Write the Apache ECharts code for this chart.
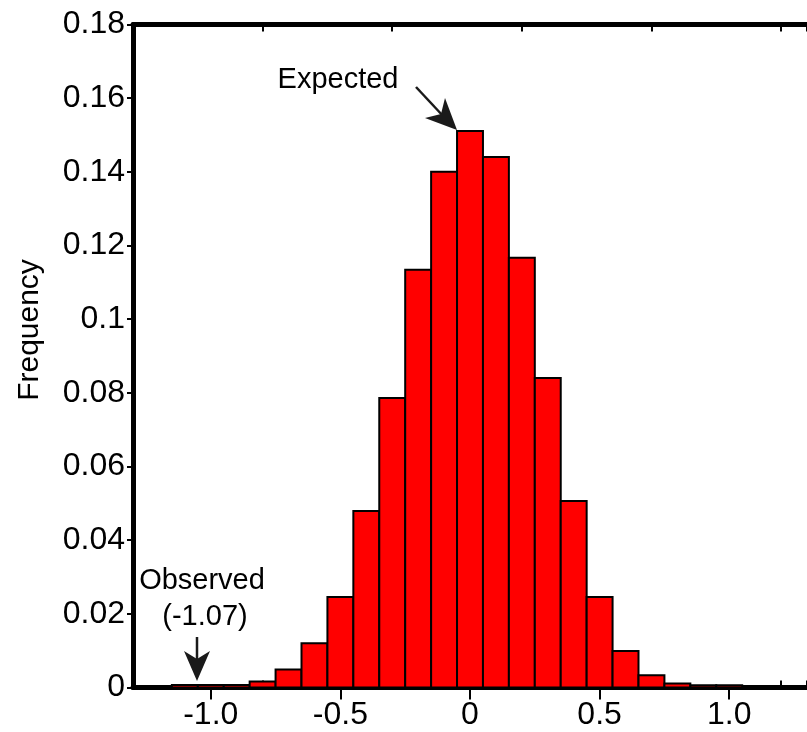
<!DOCTYPE html>
<html>
<head>
<meta charset="utf-8">
<script src="https://cdn.jsdelivr.net/npm/echarts@6/dist/echarts.min.js"></script>
<style>
html,body{margin:0;padding:0;background:#fff;}
#chart{width:807px;height:732px;}
</style>
</head>
<body>
<div id="chart"></div>
<script>
// ---- data ----
var binCenters = [-1.1,-1.0,-0.9,-0.8,-0.7,-0.6,-0.5,-0.4,-0.3,-0.2,-0.1,0.0,0.1,0.2,0.3,0.4,0.5,0.6,0.7,0.8,0.9,1.0];
var frequencies = [0.0007,0.0007,0.0007,0.0016,0.0049,0.0120,0.0246,0.0479,0.0786,0.1134,0.1400,0.1511,0.1440,0.1167,0.0840,0.0506,0.0246,0.0099,0.0033,0.0011,0.0006,0.0006];
var binWidth = 0.1;
var xTickValues = [-1.0,-0.5,0,0.5,1.0];
var xTickLabels = ['-1.0','-0.5','0','0.5','1.0'];
var yTicksMax = 0.18, yTickStep = 0.02;
var expectedLabel = 'Expected';
var observedLabel = ['Observed','(-1.07)'];
var yAxisTitle = 'Frequency';

var FONT = "'Liberation Sans', Arial, sans-serif";
var chart = echarts.init(document.getElementById('chart'), null, {renderer:'canvas'});

var seriesData = binCenters.map(function(c,i){ return [c, frequencies[i]]; });

var baseX = {
  type:'value', min:-1.3, max:1.3, interval:0.5,
  splitLine:{show:false},
  axisLine:{show:true, onZero:false, lineStyle:{color:'#000', width:5}},
  axisTick:{show:true, inside:true, length:7, lineStyle:{color:'#000', width:2}},
  axisLabel:{show:false}
};

var option = {
  backgroundColor:'#ffffff',
  animation:false,
  grid:{left:133, top:24.5, width:684, height:663, containLabel:false},
  xAxis:[
    Object.assign({}, baseX, {position:'bottom'}),
    {
      type:'value', position:'bottom', min:-1.3, max:1.3,
      splitLine:{show:false},
      axisLine:{show:false},
      axisTick:{show:true, inside:false, length:12, customValues:xTickValues, lineStyle:{color:'#000', width:2}},
      axisLabel:{show:true, customValues:xTickValues, margin:12, color:'#000', fontSize:32, fontFamily:FONT,
        formatter:function(v){ var i = xTickValues.indexOf(v); return i>=0 ? xTickLabels[i] : ''; }}
    },
    Object.assign({}, baseX, {position:'top'})
  ],
  yAxis:{
    type:'value', min:0, max:yTicksMax, interval:yTickStep,
    splitLine:{show:false},
    axisLine:{show:true, onZero:false, lineStyle:{color:'#000', width:5}},
    axisTick:{show:true, inside:false, length:6, lineStyle:{color:'#000', width:2}},
    axisLabel:{margin:8, color:'#000', fontSize:32, fontFamily:FONT}
  },
  series:[{
    type:'custom',
    xAxisIndex:0, yAxisIndex:0,
    encode:{x:0, y:1},
    data:seriesData,
    renderItem:function(params, api){
      var c = api.value(0), v = api.value(1);
      var p1 = api.coord([c - binWidth/2, v]);
      var p2 = api.coord([c + binWidth/2, 0]);
      return {
        type:'rect',
        shape:{x:p1[0], y:p1[1], width:p2[0]-p1[0], height:p2[1]-p1[1]},
        style:{fill:'#ff0000', stroke:'#000', lineWidth:2}
      };
    }
  }],
  graphic:[
    {type:'text', x:30, y:330, rotation:Math.PI/2, style:{text:yAxisTitle, fill:'#000', font:'30px '+FONT, align:'center', verticalAlign:'middle'}},
    {type:'text', x:338, y:80, style:{text:expectedLabel, fill:'#000', font:'29px '+FONT, align:'center', verticalAlign:'middle'}},
    {type:'line', shape:{x1:416, y1:87, x2:444, y2:117}, style:{stroke:'#1a1a1a', lineWidth:2.5}},
    {type:'polygon', shape:{points:[[457,130],[425,118],[441,114],[445,98]]}, style:{fill:'#1a1a1a'}},
    {type:'text', x:202, y:581, style:{text:observedLabel[0], fill:'#000', font:'29px '+FONT, align:'center', verticalAlign:'middle'}},
    {type:'text', x:205, y:617, style:{text:observedLabel[1], fill:'#000', font:'29px '+FONT, align:'center', verticalAlign:'middle'}},
    {type:'line', shape:{x1:197, y1:637, x2:197, y2:662}, style:{stroke:'#1a1a1a', lineWidth:2.5}},
    {type:'polygon', shape:{points:[[197,681],[184,651],[197,659],[210,651]]}, style:{fill:'#1a1a1a'}}
  ]
};
chart.setOption(option);
</script>
</body>
</html>
